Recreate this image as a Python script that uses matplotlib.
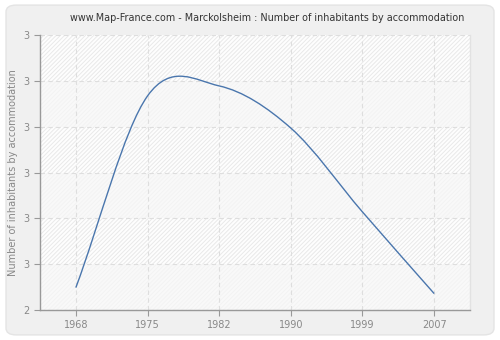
import numpy as np
import matplotlib
matplotlib.use("Agg")
import matplotlib.pyplot as plt
from matplotlib.patches import FancyBboxPatch, PathPatch
from matplotlib.path import Path
from matplotlib.ticker import FixedLocator, FuncFormatter

years = ["1968", "1975", "1982", "1990", "1999", "2007"]
inhabitants = [2.449, 2.867, 2.889, 2.797, 2.614, 2.436]
y_ticks = [2.4, 2.5, 2.6, 2.7, 2.8, 2.9, 3.0]

plt.rcParams["hatch.linewidth"] = 0.7

fig = plt.figure(figsize=(5, 3.4), dpi=100, facecolor="white")

# rounded grey frame
frame = FancyBboxPatch((0.012, 0.015), 0.976, 0.97, boxstyle="round,pad=0,rounding_size=0.02",
                       transform=fig.transFigure, facecolor="#f0f0f0", edgecolor="#e4e4e4",
                       linewidth=1.0, zorder=-10)
fig.patches.append(frame)

ax = fig.add_axes([0.08, 0.088, 0.86, 0.809])
ax.set_zorder(5)
ax.set_facecolor("#fbfbfb")

# alternating bands: hatched / plain
for i in range(len(y_ticks) - 1):
    lo, hi = y_ticks[i], y_ticks[i + 1]
    if i % 2 == 1:
        ax.axhspan(lo, hi, facecolor="#fefefe", edgecolor="#e9e9e9",
                   hatch="/" * 8, linewidth=0, zorder=0)
    else:
        ax.axhspan(lo, hi, facecolor="#f9f9f9", edgecolor="#f3f3f3",
                   hatch="/" * 8, linewidth=0, zorder=0)

x = np.arange(len(years))
y = np.array(inhabitants)

# smooth curve through the points (Catmull-Rom as cubic Bezier)
m = np.zeros_like(y)
m[1:-1] = (y[2:] - y[:-2]) / 2
m[0] = y[1] - y[0]
m[-1] = y[-1] - y[-2]
verts = [(x[0], y[0])]
codes = [Path.MOVETO]
for i in range(len(x) - 1):
    verts += [(x[i] + 1 / 3, y[i] + m[i] / 3),
              (x[i + 1] - 1 / 3, y[i + 1] - m[i + 1] / 3),
              (x[i + 1], y[i + 1])]
    codes += [Path.CURVE4] * 3
ax.add_patch(PathPatch(Path(verts, codes), facecolor="none", edgecolor="#4a76ad",
                       linewidth=1.0, zorder=3))

ax.set_xlim(-0.5, len(years) - 0.5)
ax.set_ylim(2.4, 3.0)
ax.set_xticks(x)
ax.set_xticklabels(years)
ax.yaxis.set_major_locator(FixedLocator(y_ticks))
ax.yaxis.set_major_formatter(FuncFormatter(lambda v, p: str(int(np.floor(v + 0.5 + 1e-9)))))

ax.grid(True, color="#dedede", linestyle=(0, (4, 3)), linewidth=0.8, zorder=1)
ax.set_axisbelow(True)

ax.spines["top"].set_visible(False)
ax.spines["right"].set_color("#e2e2e2")
ax.spines["right"].set_linewidth(1.0)
for side in ["left", "bottom"]:
    ax.spines[side].set_color("#999999")
    ax.spines[side].set_linewidth(1.0)

ax.tick_params(axis="both", colors="#999999", labelcolor="#888888", labelsize=7,
               length=4, width=0.8)

ax.set_ylabel("Number of inhabitants by accommodation", fontsize=7, color="#888888", labelpad=4)
fig.text(0.534, 0.947, "www.Map-France.com - Marckolsheim : Number of inhabitants by accommodation",
         ha="center", va="center", fontsize=6.9, color="#333333")

fig.savefig("out.png", dpi=100, facecolor="white")
